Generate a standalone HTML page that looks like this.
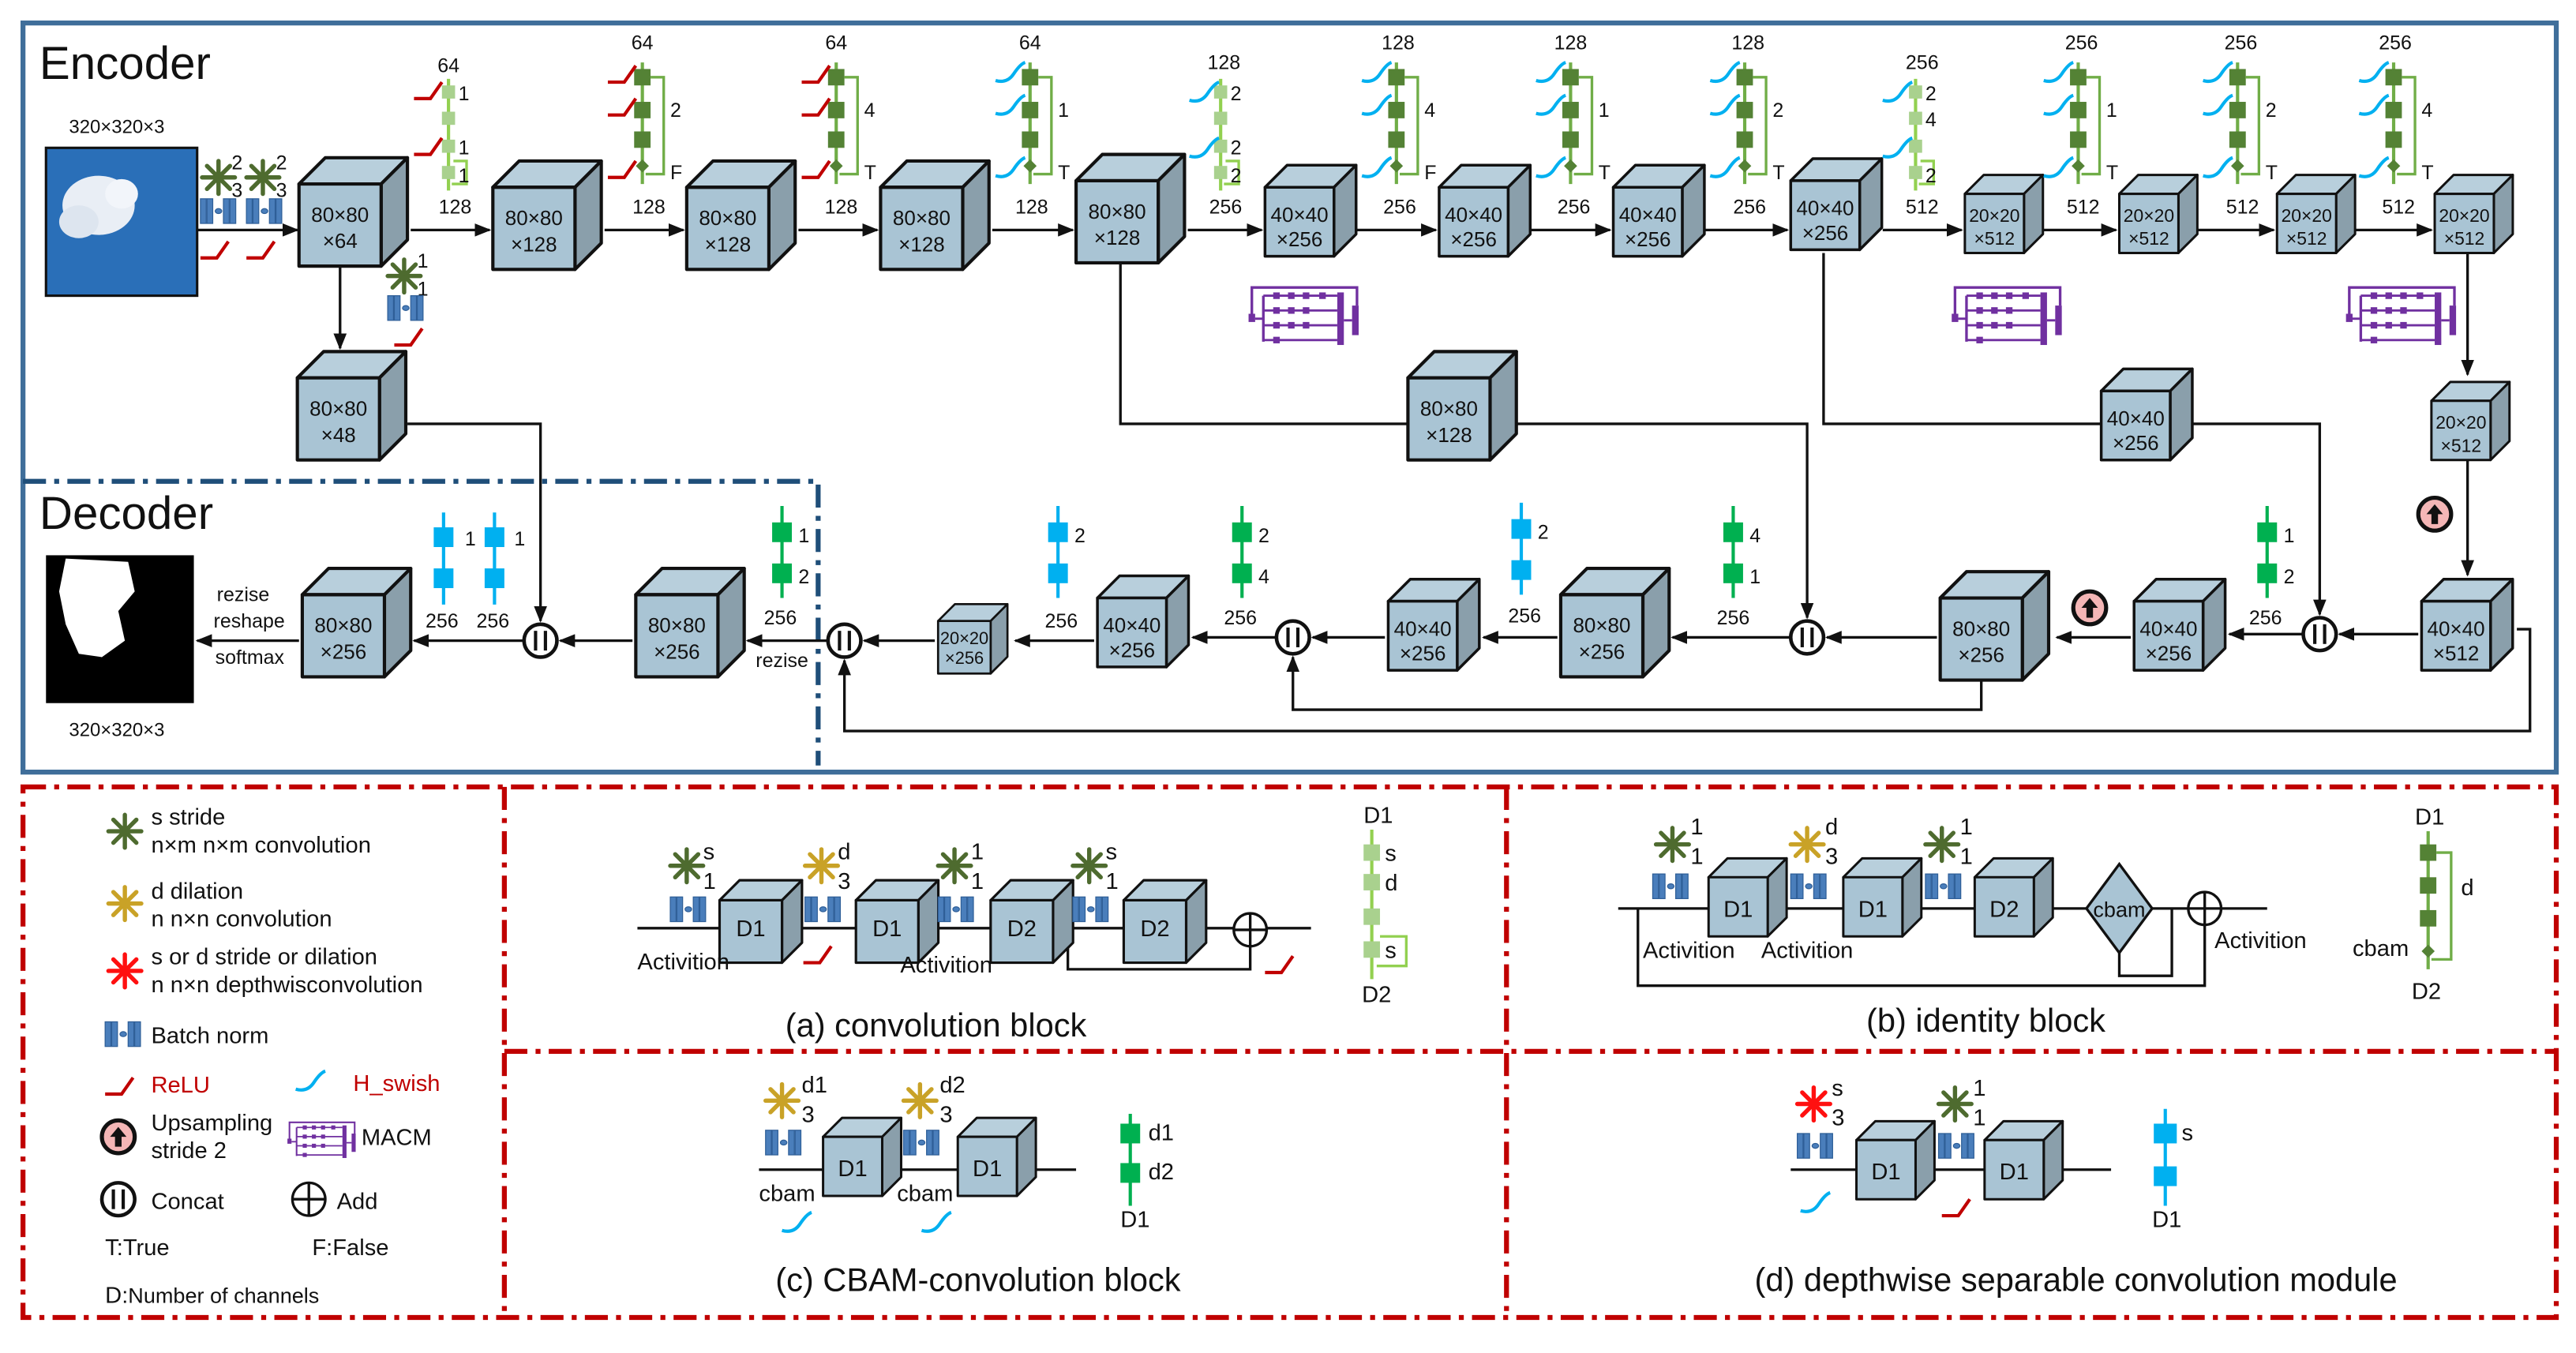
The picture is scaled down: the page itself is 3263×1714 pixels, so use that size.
<!DOCTYPE html>
<html><head><meta charset="utf-8"><style>
html,body{margin:0;padding:0;background:#fff}
svg{display:block}
text{font-family:"Liberation Sans",sans-serif;fill:#111}
</style></head><body>
<svg width="3263" height="1714" viewBox="0 0 1568 823.6" preserveAspectRatio="none" xmlns="http://www.w3.org/2000/svg">
<defs>
<g id="cube" stroke="#111" stroke-width="2" stroke-linejoin="round">
<polygon points="0,0 16,-16 66,-16 50,0" fill="#b8cfdc"/>
<polygon points="50,0 66,-16 66,34 50,50" fill="#8a9fab"/>
<rect x="0" y="0" width="50" height="50" fill="#a9c4d4"/>
</g>
<g id="starG" stroke="#4e6b2f" stroke-width="2.6" stroke-linecap="round">
<line x1="0" y1="-3" x2="0" y2="-10"/><line x1="0" y1="3" x2="0" y2="10"/><line x1="-3" y1="0" x2="-10" y2="0"/><line x1="3" y1="0" x2="10" y2="0"/>
<line x1="2" y1="-2" x2="7" y2="-7"/><line x1="-2" y1="-2" x2="-7" y2="-7"/><line x1="2" y1="2" x2="7" y2="7"/><line x1="-2" y1="2" x2="-7" y2="7"/>
<circle r="1.5" fill="#4e6b2f"/></g>
<g id="starY" stroke="#c9a227" stroke-width="2.6" stroke-linecap="round">
<line x1="0" y1="-3" x2="0" y2="-10"/><line x1="0" y1="3" x2="0" y2="10"/><line x1="-3" y1="0" x2="-10" y2="0"/><line x1="3" y1="0" x2="10" y2="0"/>
<line x1="2" y1="-2" x2="7" y2="-7"/><line x1="-2" y1="-2" x2="-7" y2="-7"/><line x1="2" y1="2" x2="7" y2="7"/><line x1="-2" y1="2" x2="-7" y2="7"/>
<circle r="1.5" fill="#c9a227"/></g>
<g id="starR" stroke="#ff1010" stroke-width="2.6" stroke-linecap="round">
<line x1="0" y1="-3" x2="0" y2="-10"/><line x1="0" y1="3" x2="0" y2="10"/><line x1="-3" y1="0" x2="-10" y2="0"/><line x1="3" y1="0" x2="10" y2="0"/>
<line x1="2" y1="-2" x2="7" y2="-7"/><line x1="-2" y1="-2" x2="-7" y2="-7"/><line x1="2" y1="2" x2="7" y2="7"/><line x1="-2" y1="2" x2="-7" y2="7"/>
<circle r="1.5" fill="#ff1010"/></g>
<g id="bn" fill="#4a7ebb" stroke="#2f5f98" stroke-width="0.6">
<rect x="0" y="0" width="3.5" height="15"/><rect x="4" y="0" width="3.5" height="15"/>
<ellipse cx="11" cy="7.5" rx="2" ry="1.5"/>
<rect x="14" y="0" width="3.5" height="15"/><rect x="18" y="0" width="3.5" height="15"/></g>
<path id="relu" d="M0,12 L10,12 L17,2" fill="none" stroke="#c00000" stroke-width="2"/>
<path id="swish" d="M0,11 Q7,13 11,7 T18,0" fill="none" stroke="#00b0f0" stroke-width="2"/>
<g id="idst">
<line x1="0" y1="38" x2="0" y2="112" stroke="#70ad47" stroke-width="2"/>
<rect x="-5" y="42" width="10" height="10" fill="#548235"/>
<rect x="-5" y="62" width="10" height="10" fill="#548235"/>
<rect x="-5" y="80" width="10" height="10" fill="#548235"/>
<polygon points="0,97 4,101 0,105 -4,101" fill="#548235"/>
<polyline points="5,47 13,47 13,106 2,106" fill="none" stroke="#70ad47" stroke-width="1.6"/>
</g>
<g id="cvst">
<line x1="0" y1="48" x2="0" y2="116" stroke="#92d050" stroke-width="2"/>
<rect x="-4" y="52" width="8" height="8" fill="#a9d18e"/>
<rect x="-4" y="68" width="8" height="8" fill="#a9d18e"/>
<rect x="-4" y="85" width="8" height="8" fill="#a9d18e"/>
<rect x="-4" y="101" width="8" height="8" fill="#a9d18e"/>
<polyline points="3,98 11,98 11,112 2,112" fill="none" stroke="#92d050" stroke-width="1.6"/>
</g>
<g id="macm" fill="#7030a0" stroke="#7030a0">
<polyline points="10,26 10,10 74,10 74,21" fill="none" stroke-width="1.6"/>
<rect x="8" y="26" width="4" height="5" stroke="none"/>
<line x1="12" y1="29" x2="17" y2="29" stroke-width="1.4"/>
<line x1="17" y1="15" x2="17" y2="43" stroke-width="1.6"/>
<line x1="17" y1="15" x2="62" y2="15" stroke-width="1.4"/><line x1="17" y1="24" x2="62" y2="24" stroke-width="1.4"/>
<line x1="17" y1="33" x2="62" y2="33" stroke-width="1.4"/><line x1="17" y1="42" x2="62" y2="42" stroke-width="1.4"/>
<rect x="23" y="13" width="4" height="4" stroke="none"/><rect x="32" y="13" width="4" height="4" stroke="none"/><rect x="41" y="13" width="4" height="4" stroke="none"/><rect x="51" y="13" width="4" height="4" stroke="none"/>
<rect x="23" y="22" width="4" height="4" stroke="none"/><rect x="32" y="22" width="4" height="4" stroke="none"/><rect x="41" y="22" width="4" height="4" stroke="none"/>
<rect x="23" y="31" width="4" height="4" stroke="none"/><rect x="32" y="31" width="4" height="4" stroke="none"/><rect x="41" y="31" width="4" height="4" stroke="none"/>
<rect x="23" y="40" width="4" height="4" stroke="none"/>
<rect x="62" y="13" width="4" height="32" stroke="none"/>
<line x1="66" y1="30" x2="71" y2="30" stroke-width="1.4"/>
<rect x="71" y="21" width="4" height="18" stroke="none"/>
</g>
<g id="up"><circle r="10" fill="#f4b6b6" stroke="#111" stroke-width="2.5"/><path d="M0,-6 L5,0 L2,0 L2,6 L-2,6 L-2,0 L-5,0 Z" fill="#111"/></g>
<g id="cat"><circle r="10" fill="#fff" stroke="#111" stroke-width="2.2"/><line x1="-3" y1="-6" x2="-3" y2="6" stroke="#111" stroke-width="2"/><line x1="3" y1="-6" x2="3" y2="6" stroke="#111" stroke-width="2"/></g>
<g id="add"><circle r="10" fill="#fff" stroke="#111" stroke-width="1.6"/><line x1="-10" y1="0" x2="10" y2="0" stroke="#111" stroke-width="1.6"/><line x1="0" y1="-10" x2="0" y2="10" stroke="#111" stroke-width="1.6"/></g>
<marker id="ar" markerWidth="10" markerHeight="8" refX="9" refY="4" orient="auto" markerUnits="userSpaceOnUse"><path d="M0,0 L10,4 L0,8 Z" fill="#111"/></marker>
</defs>

<rect x="14" y="14" width="1542" height="456" fill="none" stroke="#3f6e9a" stroke-width="3"/>
<text x="24" y="48" font-size="28">Encoder</text>
<text x="24" y="322" font-size="28">Decoder</text>
<polyline points="14,293 498,293 498,466" fill="none" stroke="#1f4e79" stroke-width="3" stroke-dasharray="14,5,3,5"/>

<rect x="28" y="90" width="92" height="90" fill="#2a6fb8" stroke="#111" stroke-width="1.5"/>
<ellipse cx="60" cy="125" rx="22" ry="18" fill="#e9eef5"/><ellipse cx="48" cy="135" rx="12" ry="10" fill="#dde5ef"/><ellipse cx="74" cy="118" rx="10" ry="9" fill="#f2f5fa"/>
<text x="42" y="81" font-size="11.5">320×320×3</text>
<rect x="28" y="338" width="90" height="90" fill="#000"/>
<path d="M40,340 L78,342 L82,360 L72,372 L76,390 L62,400 L48,398 L40,380 L36,360 Z" fill="#fff"/>
<text x="42" y="448" font-size="11.5">320×320×3</text>

<g stroke="#111" stroke-width="1.6" fill="none">
<line x1="120" y1="140" x2="181" y2="140" marker-end="url(#ar)"/>
<line x1="250" y1="140" x2="298" y2="140" marker-end="url(#ar)"/>
<line x1="368" y1="140" x2="416" y2="140" marker-end="url(#ar)"/>
<line x1="486" y1="140" x2="534" y2="140" marker-end="url(#ar)"/>
<line x1="604" y1="140" x2="653" y2="140" marker-end="url(#ar)"/>
<line x1="723" y1="140" x2="768" y2="140" marker-end="url(#ar)"/>
<line x1="826" y1="140" x2="874" y2="140" marker-end="url(#ar)"/>
<line x1="932" y1="140" x2="980" y2="140" marker-end="url(#ar)"/>
<line x1="1038" y1="140" x2="1088" y2="140" marker-end="url(#ar)"/>
<line x1="1146" y1="140" x2="1194" y2="140" marker-end="url(#ar)"/>
<line x1="1244" y1="140" x2="1288" y2="140" marker-end="url(#ar)"/>
<line x1="1338" y1="140" x2="1384" y2="140" marker-end="url(#ar)"/>
<line x1="1434" y1="140" x2="1480" y2="140" marker-end="url(#ar)"/>
<line x1="207" y1="162" x2="207" y2="212" marker-end="url(#ar)"/>
<polyline points="248,258 329,258 329,378" marker-end="url(#ar)"/>
<polyline points="682,160 682,258 1100,258 1100,376" marker-end="url(#ar)"/>
<polyline points="1110,154 1110,258 1412,258 1412,374" marker-end="url(#ar)"/>
<line x1="1502" y1="154" x2="1502" y2="228" marker-end="url(#ar)"/>
<line x1="1502" y1="278" x2="1502" y2="350" marker-end="url(#ar)"/>
<line x1="1472" y1="386" x2="1424" y2="386" marker-end="url(#ar)"/>
<line x1="1402" y1="386" x2="1357" y2="386" marker-end="url(#ar)"/>
<line x1="1297" y1="388" x2="1252" y2="388" marker-end="url(#ar)"/>
<line x1="1179" y1="388" x2="1112" y2="388" marker-end="url(#ar)"/>
<line x1="1090" y1="388" x2="1018" y2="388" marker-end="url(#ar)"/>
<line x1="948" y1="388" x2="903" y2="388" marker-end="url(#ar)"/>
<line x1="843" y1="388" x2="799" y2="388" marker-end="url(#ar)"/>
<line x1="777" y1="388" x2="726" y2="388" marker-end="url(#ar)"/>
<line x1="666" y1="390" x2="618" y2="390" marker-end="url(#ar)"/>
<line x1="569" y1="390" x2="526" y2="390" marker-end="url(#ar)"/>
<line x1="504" y1="390" x2="455" y2="390" marker-end="url(#ar)"/>
<line x1="385" y1="390" x2="341" y2="390" marker-end="url(#ar)"/>
<line x1="319" y1="390" x2="252" y2="390" marker-end="url(#ar)"/>
<line x1="182" y1="390" x2="120" y2="390" marker-end="url(#ar)"/>
<polyline points="1206,414 1206,432 787,432 787,400" marker-end="url(#ar)"/>
<polyline points="1532,383 1540,383 1540,445 514,445 514,402" marker-end="url(#ar)"/>
</g>

<g font-size="12.5" text-anchor="middle">
<use href="#cube" x="182" y="112"/><text x="207" y="135">80×80</text><text x="207" y="151">×64</text>
<use href="#cube" x="300" y="114"/><text x="325" y="137">80×80</text><text x="325" y="153">×128</text>
<use href="#cube" x="418" y="114"/><text x="443" y="137">80×80</text><text x="443" y="153">×128</text>
<use href="#cube" x="536" y="114"/><text x="561" y="137">80×80</text><text x="561" y="153">×128</text>
<use href="#cube" x="655" y="110"/><text x="680" y="133">80×80</text><text x="680" y="149">×128</text>
<use href="#cube" transform="translate(770,114) scale(0.84)"/><text x="791" y="135">40×40</text><text x="791" y="150">×256</text>
<use href="#cube" transform="translate(876,114) scale(0.84)"/><text x="897" y="135">40×40</text><text x="897" y="150">×256</text>
<use href="#cube" transform="translate(982,114) scale(0.84)"/><text x="1003" y="135">40×40</text><text x="1003" y="150">×256</text>
<use href="#cube" transform="translate(1090,110) scale(0.84)"/><text x="1111" y="131">40×40</text><text x="1111" y="146">×256</text>
<use href="#cube" transform="translate(1196,118) scale(0.72)"/><text x="1214" y="135" font-size="11">20×20</text><text x="1214" y="149" font-size="11">×512</text>
<use href="#cube" transform="translate(1290,118) scale(0.72)"/><text x="1308" y="135" font-size="11">20×20</text><text x="1308" y="149" font-size="11">×512</text>
<use href="#cube" transform="translate(1386,118) scale(0.72)"/><text x="1404" y="135" font-size="11">20×20</text><text x="1404" y="149" font-size="11">×512</text>
<use href="#cube" transform="translate(1482,118) scale(0.72)"/><text x="1500" y="135" font-size="11">20×20</text><text x="1500" y="149" font-size="11">×512</text>
<use href="#cube" x="181" y="230"/><text x="206" y="253">80×80</text><text x="206" y="269">×48</text>
<use href="#cube" x="857" y="230"/><text x="882" y="253">80×80</text><text x="882" y="269">×128</text>
<use href="#cube" transform="translate(1279,238) scale(0.84)"/><text x="1300" y="259">40×40</text><text x="1300" y="274">×256</text>
<use href="#cube" transform="translate(1480,244) scale(0.72)"/><text x="1498" y="261" font-size="11">20×20</text><text x="1498" y="275" font-size="11">×512</text>
<use href="#cube" x="184" y="362"/><text x="209" y="385">80×80</text><text x="209" y="401">×256</text>
<use href="#cube" x="387" y="362"/><text x="412" y="385">80×80</text><text x="412" y="401">×256</text>
<use href="#cube" transform="translate(571,378) scale(0.64)"/><text x="587" y="392" font-size="10.5">20×20</text><text x="587" y="404" font-size="10.5">×256</text>
<use href="#cube" transform="translate(668,364) scale(0.84)"/><text x="689" y="385">40×40</text><text x="689" y="400">×256</text>
<use href="#cube" transform="translate(845,366) scale(0.84)"/><text x="866" y="387">40×40</text><text x="866" y="402">×256</text>
<use href="#cube" x="950" y="362"/><text x="975" y="385">80×80</text><text x="975" y="401">×256</text>
<use href="#cube" x="1181" y="364"/><text x="1206" y="387">80×80</text><text x="1206" y="403">×256</text>
<use href="#cube" transform="translate(1299,366) scale(0.84)"/><text x="1320" y="387">40×40</text><text x="1320" y="402">×256</text>
<use href="#cube" transform="translate(1474,366) scale(0.84)"/><text x="1495" y="387">40×40</text><text x="1495" y="402">×512</text>
</g>

<use href="#cat" x="329" y="390"/><use href="#cat" x="514" y="390"/><use href="#cat" x="787" y="388"/><use href="#cat" x="1100" y="388"/><use href="#cat" x="1412" y="386"/>
<use href="#up" x="1482" y="313"/><use href="#up" x="1272" y="370"/>

<use href="#starG" x="133" y="108"/><text x="141" y="103" font-size="12">2</text><text x="141" y="120" font-size="12">3</text>
<use href="#starG" x="160" y="108"/><text x="168" y="103" font-size="12">2</text><text x="168" y="120" font-size="12">3</text>
<use href="#bn" x="122" y="121"/><use href="#bn" x="150" y="121"/>
<use href="#relu" x="122" y="145"/><use href="#relu" x="150" y="145"/>
<use href="#starG" x="246" y="168"/><text x="254" y="163" font-size="12">1</text><text x="254" y="180" font-size="12">1</text>
<use href="#bn" x="236" y="180"/><use href="#relu" x="240" y="198"/>

<g font-size="12" text-anchor="middle">
<use href="#cvst" x="273"/><text x="273" y="44">64</text><text x="277" y="130">128</text>
<use href="#relu" x="252" y="48"/><use href="#relu" x="252" y="82"/>
<use href="#idst" x="391"/><text x="391" y="30">64</text><text x="395" y="130">128</text>
<use href="#relu" x="370" y="38"/><use href="#relu" x="370" y="58"/><use href="#relu" x="370" y="96"/>
<use href="#idst" x="509"/><text x="509" y="30">64</text><text x="512" y="130">128</text>
<use href="#relu" x="488" y="38"/><use href="#relu" x="488" y="58"/><use href="#relu" x="488" y="96"/>
<use href="#idst" x="627"/><text x="627" y="30">64</text><text x="628" y="130">128</text>
<use href="#swish" x="606" y="38"/><use href="#swish" x="606" y="58"/><use href="#swish" x="606" y="96"/>
<use href="#cvst" x="743"/><text x="745" y="42">128</text><text x="746" y="130">256</text>
<use href="#swish" x="724" y="50"/><use href="#swish" x="724" y="84"/>
<use href="#idst" x="850"/><text x="851" y="30">128</text><text x="852" y="130">256</text>
<use href="#swish" x="829" y="38"/><use href="#swish" x="829" y="58"/><use href="#swish" x="829" y="96"/>
<use href="#idst" x="956"/><text x="956" y="30">128</text><text x="958" y="130">256</text>
<use href="#swish" x="935" y="38"/><use href="#swish" x="935" y="58"/><use href="#swish" x="935" y="96"/>
<use href="#idst" x="1062"/><text x="1064" y="30">128</text><text x="1065" y="130">256</text>
<use href="#swish" x="1041" y="38"/><use href="#swish" x="1041" y="58"/><use href="#swish" x="1041" y="96"/>
<use href="#cvst" x="1166"/><text x="1170" y="42">256</text><text x="1170" y="130">512</text>
<use href="#swish" x="1146" y="50"/><use href="#swish" x="1146" y="84"/>
<use href="#idst" x="1265"/><text x="1267" y="30">256</text><text x="1268" y="130">512</text>
<use href="#swish" x="1244" y="38"/><use href="#swish" x="1244" y="58"/><use href="#swish" x="1244" y="96"/>
<use href="#idst" x="1362"/><text x="1364" y="30">256</text><text x="1365" y="130">512</text>
<use href="#swish" x="1341" y="38"/><use href="#swish" x="1341" y="58"/><use href="#swish" x="1341" y="96"/>
<use href="#idst" x="1457"/><text x="1458" y="30">256</text><text x="1460" y="130">512</text>
<use href="#swish" x="1436" y="38"/><use href="#swish" x="1436" y="58"/><use href="#swish" x="1436" y="96"/>
</g>
<g font-size="12">
<text x="279" y="61">1</text><text x="279" y="94">1</text><text x="279" y="111">1</text>
<text x="408" y="71">2</text><text x="408" y="109">F</text>
<text x="526" y="71">4</text><text x="526" y="109">T</text>
<text x="644" y="71">1</text><text x="644" y="109">T</text>
<text x="749" y="61">2</text><text x="749" y="94">2</text><text x="749" y="111">2</text>
<text x="867" y="71">4</text><text x="867" y="109">F</text>
<text x="973" y="71">1</text><text x="973" y="109">T</text>
<text x="1079" y="71">2</text><text x="1079" y="109">T</text>
<text x="1172" y="61">2</text><text x="1172" y="77">4</text><text x="1172" y="111">2</text>
<text x="1282" y="71">1</text><text x="1282" y="109">T</text>
<text x="1379" y="71">2</text><text x="1379" y="109">T</text>
<text x="1474" y="71">4</text><text x="1474" y="109">T</text>
</g>
<use href="#macm" x="752" y="165"/><use href="#macm" x="1180" y="165"/><use href="#macm" x="1420" y="165"/>

<g font-size="12">
<g stroke-width="2"><line x1="270" y1="312" x2="270" y2="368" stroke="#00b0f0"/><line x1="301" y1="312" x2="301" y2="368" stroke="#00b0f0"/>
<line x1="476" y1="308" x2="476" y2="364" stroke="#00b050"/><line x1="644" y1="308" x2="644" y2="364" stroke="#00b0f0"/>
<line x1="756" y1="308" x2="756" y2="364" stroke="#00b050"/><line x1="926" y1="306" x2="926" y2="362" stroke="#00b0f0"/>
<line x1="1055" y1="308" x2="1055" y2="364" stroke="#00b050"/><line x1="1380" y1="308" x2="1380" y2="364" stroke="#00b050"/></g>
<rect x="264" y="321" width="12" height="12" fill="#00b0f0"/><rect x="264" y="346" width="12" height="12" fill="#00b0f0"/>
<rect x="295" y="321" width="12" height="12" fill="#00b0f0"/><rect x="295" y="346" width="12" height="12" fill="#00b0f0"/>
<rect x="470" y="318" width="12" height="12" fill="#00b050"/><rect x="470" y="343" width="12" height="12" fill="#00b050"/>
<rect x="638" y="318" width="12" height="12" fill="#00b0f0"/><rect x="638" y="343" width="12" height="12" fill="#00b0f0"/>
<rect x="750" y="318" width="12" height="12" fill="#00b050"/><rect x="750" y="343" width="12" height="12" fill="#00b050"/>
<rect x="920" y="316" width="12" height="12" fill="#00b0f0"/><rect x="920" y="341" width="12" height="12" fill="#00b0f0"/>
<rect x="1049" y="318" width="12" height="12" fill="#00b050"/><rect x="1049" y="343" width="12" height="12" fill="#00b050"/>
<rect x="1374" y="318" width="12" height="12" fill="#00b050"/><rect x="1374" y="343" width="12" height="12" fill="#00b050"/>
<text x="283" y="332">1</text><text x="313" y="332">1</text><text x="259" y="382">256</text><text x="290" y="382">256</text>
<text x="486" y="330">1</text><text x="486" y="355">2</text><text x="465" y="380">256</text>
<text x="654" y="330">2</text><text x="636" y="382">256</text>
<text x="766" y="330">2</text><text x="766" y="355">4</text><text x="745" y="380">256</text>
<text x="936" y="328">2</text><text x="918" y="379">256</text>
<text x="1065" y="330">4</text><text x="1065" y="355">1</text><text x="1045" y="380">256</text>
<text x="1390" y="330">1</text><text x="1390" y="355">2</text><text x="1369" y="380">256</text>
<text x="132" y="366">rezise</text><text x="130" y="382">reshape</text><text x="131" y="404">softmax</text>
<text x="460" y="406">rezise</text>
</g>

<g fill="none" stroke="#c00000" stroke-width="3" stroke-dasharray="14,5,3,5">
<rect x="14" y="479" width="1542" height="323"/>
<line x1="307" y1="479" x2="307" y2="802"/>
<line x1="917" y1="479" x2="917" y2="802"/>
<line x1="307" y1="640" x2="1556" y2="640"/>
</g>

<g font-size="14">
<use href="#starG" x="76" y="506"/><text x="92" y="502">s stride</text><text x="92" y="519">n×m  n×m convolution</text>
<use href="#starY" x="76" y="550"/><text x="92" y="547">d  dilation</text><text x="92" y="564">n  n×n convolution</text>
<use href="#starR" x="76" y="591"/><text x="92" y="587">s or d stride or dilation</text><text x="92" y="604">n  n×n depthwisconvolution</text>
<use href="#bn" x="64" y="622"/><text x="92" y="635">Batch norm</text>
<use href="#relu" x="64" y="654"/><text x="92" y="665" style="fill:#c00000">ReLU</text>
<use href="#swish" x="180" y="652"/><text x="215" y="664" style="fill:#c00000">H_swish</text>
<use href="#up" x="72" y="692"/><text x="92" y="688">Upsampling</text><text x="92" y="705">stride 2</text>
<use href="#macm" transform="translate(170,677) scale(0.62)"/><text x="220" y="697">MACM</text>
<use href="#cat" x="72" y="730"/><text x="92" y="736">Concat</text>
<use href="#add" x="188" y="730"/><text x="205" y="736">Add</text>
<text x="64" y="764">T:True</text><text x="190" y="764">F:False</text>
<text x="64" y="793">D:<tspan font-size="13">Number of channels</tspan></text>
</g>

<g font-size="14">
<line x1="388" y1="565" x2="798" y2="565" stroke="#111" stroke-width="1.6"/>
<polyline points="650,565 650,590 761,590 761,576" fill="none" stroke="#111" stroke-width="1.6"/>
<use href="#cube" transform="translate(438,548) scale(0.76)"/>
<use href="#cube" transform="translate(521,548) scale(0.76)"/>
<use href="#cube" transform="translate(603,548) scale(0.76)"/>
<use href="#cube" transform="translate(684,548) scale(0.76)"/>
<g text-anchor="middle"><text x="457" y="570">D1</text><text x="540" y="570">D1</text><text x="622" y="570">D2</text><text x="703" y="570">D2</text></g>
<use href="#add" x="761" y="566"/>
<use href="#starG" x="418" y="527"/><text x="428" y="523">s</text><text x="428" y="541">1</text>
<use href="#starY" x="500" y="527"/><text x="510" y="523">d</text><text x="510" y="541">3</text>
<use href="#starG" x="581" y="527"/><text x="591" y="523">1</text><text x="591" y="541">1</text>
<use href="#starG" x="663" y="527"/><text x="673" y="523">s</text><text x="673" y="541">1</text>
<use href="#bn" x="408" y="546"/><use href="#bn" x="490" y="546"/><use href="#bn" x="571" y="546"/><use href="#bn" x="653" y="546"/>
<text x="388" y="590">Activition</text><text x="548" y="592">Activition</text>
<use href="#relu" x="489" y="574"/><use href="#relu" x="770" y="580"/>
<line x1="835" y1="505" x2="835" y2="596" stroke="#92d050" stroke-width="2"/>
<rect x="830" y="514" width="10" height="10" fill="#a9d18e"/><rect x="830" y="532" width="10" height="10" fill="#a9d18e"/>
<rect x="830" y="553" width="10" height="10" fill="#a9d18e"/><rect x="830" y="573" width="10" height="10" fill="#a9d18e"/>
<polyline points="840,570 856,570 856,588 838,588" fill="none" stroke="#92d050" stroke-width="1.6"/>
<text x="830" y="501">D1</text><text x="843" y="524">s</text><text x="843" y="542">d</text><text x="843" y="583">s</text><text x="829" y="610">D2</text>
<text x="478" y="631" font-size="20">(a) convolution block</text>
</g>

<g font-size="14">
<line x1="985" y1="553" x2="1380" y2="553" stroke="#111" stroke-width="1.6"/>
<polyline points="997,553 997,600 1342,600 1342,563" fill="none" stroke="#111" stroke-width="1.6"/>
<polyline points="1290,573 1290,594 1322,594 1322,553" fill="none" stroke="#111" stroke-width="1.6"/>
<use href="#cube" transform="translate(1040,534) scale(0.72)"/>
<use href="#cube" transform="translate(1122,534) scale(0.72)"/>
<use href="#cube" transform="translate(1202,534) scale(0.72)"/>
<g text-anchor="middle"><text x="1058" y="558">D1</text><text x="1140" y="558">D1</text><text x="1220" y="558">D2</text></g>
<polygon points="1290,526 1310,553 1290,580 1270,553" fill="#a9c4d4" stroke="#111" stroke-width="1.6"/>
<text x="1290" y="558" text-anchor="middle" font-size="13">cbam</text>
<use href="#add" x="1342" y="553"/>
<use href="#starG" x="1018" y="514"/><text x="1029" y="508">1</text><text x="1029" y="526">1</text>
<use href="#starY" x="1100" y="514"/><text x="1111" y="508">d</text><text x="1111" y="526">3</text>
<use href="#starG" x="1182" y="514"/><text x="1193" y="508">1</text><text x="1193" y="526">1</text>
<use href="#bn" x="1006" y="532"/><use href="#bn" x="1090" y="532"/><use href="#bn" x="1172" y="532"/>
<text x="1000" y="583">Activition</text><text x="1072" y="583">Activition</text><text x="1348" y="577">Activition</text>
<line x1="1478" y1="506" x2="1478" y2="590" stroke="#70ad47" stroke-width="2"/>
<rect x="1473" y="514" width="10" height="10" fill="#548235"/><rect x="1473" y="534" width="10" height="10" fill="#548235"/><rect x="1473" y="554" width="10" height="10" fill="#548235"/>
<polygon points="1478,575 1482,579 1478,583 1474,579" fill="#548235"/>
<polyline points="1483,519 1492,519 1492,584 1480,584" fill="none" stroke="#70ad47" stroke-width="1.6"/>
<text x="1470" y="502">D1</text><text x="1498" y="545">d</text><text x="1432" y="582">cbam</text><text x="1468" y="608">D2</text>
<text x="1136" y="628" font-size="20">(b) identity block</text>
</g>

<g font-size="14">
<line x1="462" y1="712" x2="655" y2="712" stroke="#111" stroke-width="1.6"/>
<use href="#cube" transform="translate(501,692) scale(0.72)"/>
<use href="#cube" transform="translate(583,692) scale(0.72)"/>
<g text-anchor="middle"><text x="519" y="716">D1</text><text x="601" y="716">D1</text></g>
<use href="#starY" x="476" y="670"/><text x="488" y="665">d1</text><text x="488" y="683">3</text>
<use href="#starY" x="560" y="670"/><text x="572" y="665">d2</text><text x="572" y="683">3</text>
<use href="#bn" x="466" y="688"/><use href="#bn" x="550" y="688"/>
<text x="462" y="731">cbam</text><text x="546" y="731">cbam</text>
<use href="#swish" x="476" y="738"/><use href="#swish" x="561" y="738"/>
<line x1="688" y1="678" x2="688" y2="734" stroke="#00b050" stroke-width="2"/>
<rect x="682" y="684" width="12" height="12" fill="#00b050"/><rect x="682" y="708" width="12" height="12" fill="#00b050"/>
<text x="699" y="694">d1</text><text x="699" y="718">d2</text><text x="682" y="747">D1</text>
<text x="472" y="786" font-size="20">(c) CBAM-convolution block</text>
</g>

<g font-size="14">
<line x1="1090" y1="712" x2="1285" y2="712" stroke="#111" stroke-width="1.6"/>
<use href="#cube" transform="translate(1130,694) scale(0.72)"/>
<use href="#cube" transform="translate(1208,694) scale(0.72)"/>
<g text-anchor="middle"><text x="1148" y="718">D1</text><text x="1226" y="718">D1</text></g>
<use href="#starR" x="1104" y="672"/><text x="1115" y="667">s</text><text x="1115" y="685">3</text>
<use href="#starG" x="1190" y="672"/><text x="1201" y="667">1</text><text x="1201" y="685">1</text>
<use href="#bn" x="1094" y="690"/><use href="#bn" x="1180" y="690"/>
<use href="#swish" x="1096" y="726"/><use href="#relu" x="1182" y="728"/>
<line x1="1318" y1="675" x2="1318" y2="734" stroke="#00b0f0" stroke-width="2"/>
<rect x="1311" y="684" width="14" height="12" fill="#00b0f0"/><rect x="1311" y="710" width="14" height="12" fill="#00b0f0"/>
<text x="1328" y="694">s</text><text x="1310" y="747">D1</text>
<text x="1068" y="786" font-size="20">(d) depthwise separable convolution module</text>
</g>
</svg>
</body></html>
